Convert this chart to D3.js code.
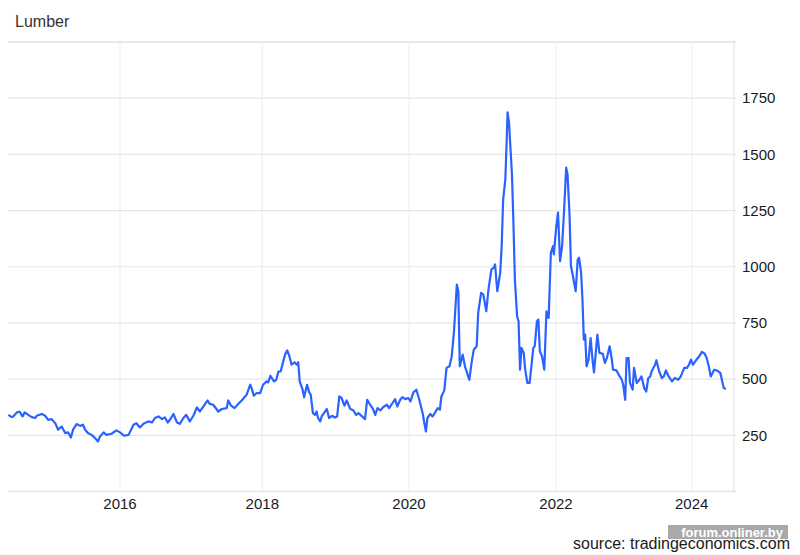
<!DOCTYPE html>
<html>
<head>
<meta charset="utf-8">
<script src="https://cdn.jsdelivr.net/npm/d3@7"></script>
<style>
  body { margin: 0; padding: 0; background: #fff; }
  svg { display: block; font-family: "Liberation Sans", Arial, sans-serif; }
</style>
</head>
<body>
<svg id="chart" width="800" height="555"></svg>
<script>
// weekly-ish lumber prices, x as decimal years
const years = [
  2014.43, 2014.48, 2014.50, 2014.55, 2014.59, 2014.63, 2014.66, 2014.71, 2014.76, 2014.81,
  2014.83, 2014.90, 2014.95, 2014.99, 2015.04, 2015.09, 2015.13, 2015.18, 2015.23, 2015.27,
  2015.31, 2015.34, 2015.39, 2015.44, 2015.48, 2015.51, 2015.55, 2015.60, 2015.65, 2015.69,
  2015.72, 2015.77, 2015.81, 2015.88, 2015.95, 2016.00, 2016.06, 2016.12, 2016.19, 2016.23,
  2016.28, 2016.33, 2016.40, 2016.45, 2016.49, 2016.54, 2016.59, 2016.63, 2016.67, 2016.70,
  2016.75, 2016.80, 2016.84, 2016.89, 2016.93, 2016.98, 2017.03, 2017.08, 2017.12, 2017.17,
  2017.23, 2017.26, 2017.31, 2017.38, 2017.43, 2017.50, 2017.52, 2017.56, 2017.61, 2017.66,
  2017.71, 2017.78, 2017.83, 2017.85, 2017.88, 2017.92, 2017.97, 2018.01, 2018.06, 2018.08,
  2018.11, 2018.16, 2018.19, 2018.22, 2018.25, 2018.28, 2018.31, 2018.34, 2018.37, 2018.40,
  2018.44, 2018.47, 2018.49, 2018.51, 2018.55, 2018.57, 2018.61, 2018.64, 2018.66, 2018.69,
  2018.72, 2018.74, 2018.76, 2018.79, 2018.81, 2018.84, 2018.88, 2018.91, 2018.95, 2018.99,
  2019.02, 2019.05, 2019.08, 2019.12, 2019.15, 2019.20, 2019.24, 2019.28, 2019.31, 2019.36,
  2019.40, 2019.43, 2019.47, 2019.51, 2019.54, 2019.57, 2019.61, 2019.65, 2019.70, 2019.73,
  2019.78, 2019.81, 2019.84, 2019.88, 2019.91, 2019.95, 2019.99, 2020.02, 2020.06, 2020.10,
  2020.14, 2020.19, 2020.20, 2020.23, 2020.25, 2020.29, 2020.32, 2020.35, 2020.39, 2020.42,
  2020.44, 2020.48, 2020.51, 2020.55, 2020.58, 2020.61, 2020.65, 2020.67, 2020.69, 2020.73,
  2020.76, 2020.82, 2020.85, 2020.88, 2020.92, 2020.94, 2020.98, 2021.01, 2021.05, 2021.08,
  2021.12, 2021.15, 2021.17, 2021.20, 2021.24, 2021.26, 2021.28, 2021.31, 2021.33, 2021.34,
  2021.36, 2021.40, 2021.42, 2021.44, 2021.47, 2021.49, 2021.51, 2021.53, 2021.56, 2021.58,
  2021.61, 2021.64, 2021.67, 2021.69, 2021.71, 2021.74, 2021.76, 2021.78, 2021.81, 2021.84,
  2021.87, 2021.90, 2021.93, 2021.96, 2021.97, 2022.00, 2022.03, 2022.06, 2022.09, 2022.12,
  2022.15, 2022.17, 2022.20, 2022.22, 2022.25, 2022.29, 2022.32, 2022.34, 2022.37, 2022.39,
  2022.41, 2022.43, 2022.45, 2022.48, 2022.51, 2022.54, 2022.56, 2022.61, 2022.64, 2022.69,
  2022.72, 2022.75, 2022.79, 2022.82, 2022.84, 2022.89, 2022.94, 2022.97, 2022.99, 2023.02,
  2023.04, 2023.07, 2023.09, 2023.13, 2023.15, 2023.19, 2023.23, 2023.26, 2023.30, 2023.33,
  2023.36, 2023.39, 2023.41, 2023.46, 2023.48, 2023.52, 2023.56, 2023.59, 2023.62, 2023.66,
  2023.71, 2023.75, 2023.80, 2023.84, 2023.89, 2023.93, 2023.96, 2023.99, 2024.02, 2024.07,
  2024.11, 2024.15, 2024.19, 2024.22, 2024.25, 2024.28, 2024.33, 2024.38, 2024.42, 2024.44,
  2024.47, 2024.50
];
const prices = [
  341, 331, 334, 352, 355, 334, 352, 341, 331, 327,
  337, 345, 337, 319, 322, 304, 275, 289, 260, 263,
  240, 275, 300, 292, 297, 275, 260, 252, 238, 222,
  245, 263, 252, 257, 272, 263, 248, 252, 297, 304,
  285, 301, 312, 307, 327, 334, 322, 330, 307, 319,
  345, 307, 301, 327, 341, 312, 337, 374, 356, 378,
  405, 390, 386, 356, 367, 371, 405, 382, 371, 389,
  405, 431, 475, 460, 426, 438, 438, 475, 490, 485,
  515, 490, 497, 534, 534, 572, 609, 628, 601, 564,
  575, 564, 575, 490, 453, 419, 475, 441, 431, 349,
  341, 356, 327, 312, 334, 349, 367, 327, 337, 329,
  334, 423, 416, 382, 405, 367, 361, 341, 349, 334,
  322, 408, 386, 367, 341, 371, 361, 376, 386, 371,
  396, 411, 378, 408, 420, 411, 416, 401, 441, 453,
  408, 341, 319, 267, 327, 345, 334, 349, 371, 364,
  423, 450, 550, 557, 601, 706, 921, 891, 557, 609,
  557, 497, 572, 631, 646, 795, 884, 876, 802, 899,
  988, 995, 1010, 891, 973, 1092, 1300, 1389, 1582, 1687,
  1642, 1411, 1196, 943, 780, 757, 542, 639, 617, 542,
  483, 483, 572, 639, 646, 757, 765, 624, 601, 542,
  802, 772, 1062, 1092, 1055, 1166, 1241, 1025, 1092, 1255,
  1441, 1411, 1226, 1003, 958, 891, 1032, 1040, 973, 854,
  676, 698, 557, 587, 683, 579, 530, 698, 617, 613,
  572, 594, 646, 594, 542, 539, 512, 497, 475, 408,
  594, 594, 483, 453, 550, 483, 497, 512, 460, 445,
  505, 512, 535, 564, 584, 535, 505, 512, 539, 512,
  490, 505, 497, 512, 550, 550, 564, 587, 564, 587,
  601, 621, 613, 594, 557, 512, 542, 537, 527, 501,
  460, 456
];
const tickYears = [2016, 2018, 2020, 2022, 2024];
const yTicks = [250, 500, 750, 1000, 1250, 1500, 1750];
const title = "Lumber";
const sourceNote = "source: tradingeconomics.com";
const watermark = "forum.onliner.by";

function toDate(y) {
  const yr = Math.floor(y);
  const a = new Date(yr, 0, 1), b = new Date(yr + 1, 0, 1);
  return new Date(+a + (y - yr) * (b - a));
}

const data = years.map((y, i) => ({ date: toDate(y), val: prices[i] }));

const svg = d3.select("#chart");
const plotLeft = 8, plotRight = 734, plotTop = 42, plotBottom = 491.5;

// time axis of the source is not perfectly even between labels
const x = d3.scaleTime()
  .domain([2014.426, 2016, 2018, 2020, 2022, 2024, 2024.62].map(toDate))
  .range([plotLeft, 120, 262.3, 409, 556, 691.7, plotRight]);

const y = d3.scaleLinear()
  .domain([0, 2000])
  .range([plotBottom, plotTop]);

// vertical grid
svg.append("g")
  .selectAll("line")
  .data(tickYears)
  .enter()
  .append("line")
  .attr("x1", d => x(toDate(d)))
  .attr("x2", d => x(toDate(d)))
  .attr("y1", plotTop)
  .attr("y2", plotBottom)
  .style("stroke", "#edf1f5")
  .style("stroke-width", 1.2);

// horizontal grid
svg.append("g")
  .selectAll("line")
  .data(yTicks)
  .enter()
  .append("line")
  .attr("x1", plotLeft)
  .attr("x2", plotRight + 2)
  .attr("y1", d => y(d))
  .attr("y2", d => y(d))
  .style("stroke", "#e6e6e6")
  .style("stroke-width", 1.2);

// frame: top line, right line, bottom axis
svg.append("line")
  .attr("x1", plotLeft).attr("x2", plotRight + 2)
  .attr("y1", y(2000)).attr("y2", y(2000))
  .style("stroke", "#e6e8ea").style("stroke-width", 2);
svg.append("line")
  .attr("x1", plotRight).attr("x2", plotRight)
  .attr("y1", plotTop - 2).attr("y2", plotBottom)
  .style("stroke", "#e6e6e6").style("stroke-width", 1.2);
svg.append("line")
  .attr("x1", plotLeft).attr("x2", plotRight + 2)
  .attr("y1", y(0)).attr("y2", y(0))
  .style("stroke", "#e3e6e9").style("stroke-width", 1.5);

// y labels
svg.append("g")
  .selectAll("text")
  .data(yTicks)
  .enter()
  .append("text")
  .attr("x", 742)
  .attr("y", d => y(d))
  .attr("dy", "0.35em")
  .style("font-size", "15px")
  .style("fill", "#1a1a1a")
  .text(d => d);

// x labels
svg.append("g")
  .selectAll("text")
  .data(tickYears)
  .enter()
  .append("text")
  .attr("x", d => x(toDate(d)))
  .attr("y", 509)
  .attr("text-anchor", "middle")
  .style("font-size", "15px")
  .style("fill", "#1a1a1a")
  .text(d => d);

// price line
const line = d3.line()
  .x(d => x(d.date))
  .y(d => y(d.val));

svg.append("path")
  .datum(data)
  .attr("d", line)
  .style("fill", "none")
  .style("stroke", "#2962ff")
  .style("stroke-width", 2.2)
  .style("stroke-linejoin", "round");

// title and source
svg.append("text")
  .attr("x", 15)
  .attr("y", 27)
  .style("font-size", "16px")
  .style("fill", "#333")
  .text(title);

svg.append("text")
  .attr("x", 790)
  .attr("y", 549)
  .attr("text-anchor", "end")
  .style("font-size", "16px")
  .style("fill", "#1a1a1a")
  .text(sourceNote);

// watermark stamped over the source line in the picture
svg.append("rect")
  .attr("x", 668).attr("y", 525)
  .attr("width", 120).attr("height", 14)
  .style("fill", "#8c8c8c")
  .style("opacity", 0.75);

svg.append("text")
  .attr("x", 783)
  .attr("y", 536.5)
  .attr("text-anchor", "end")
  .style("font-size", "13px")
  .style("font-weight", "bold")
  .style("fill", "#fff")
  .text(watermark);
</script>
</body>
</html>
